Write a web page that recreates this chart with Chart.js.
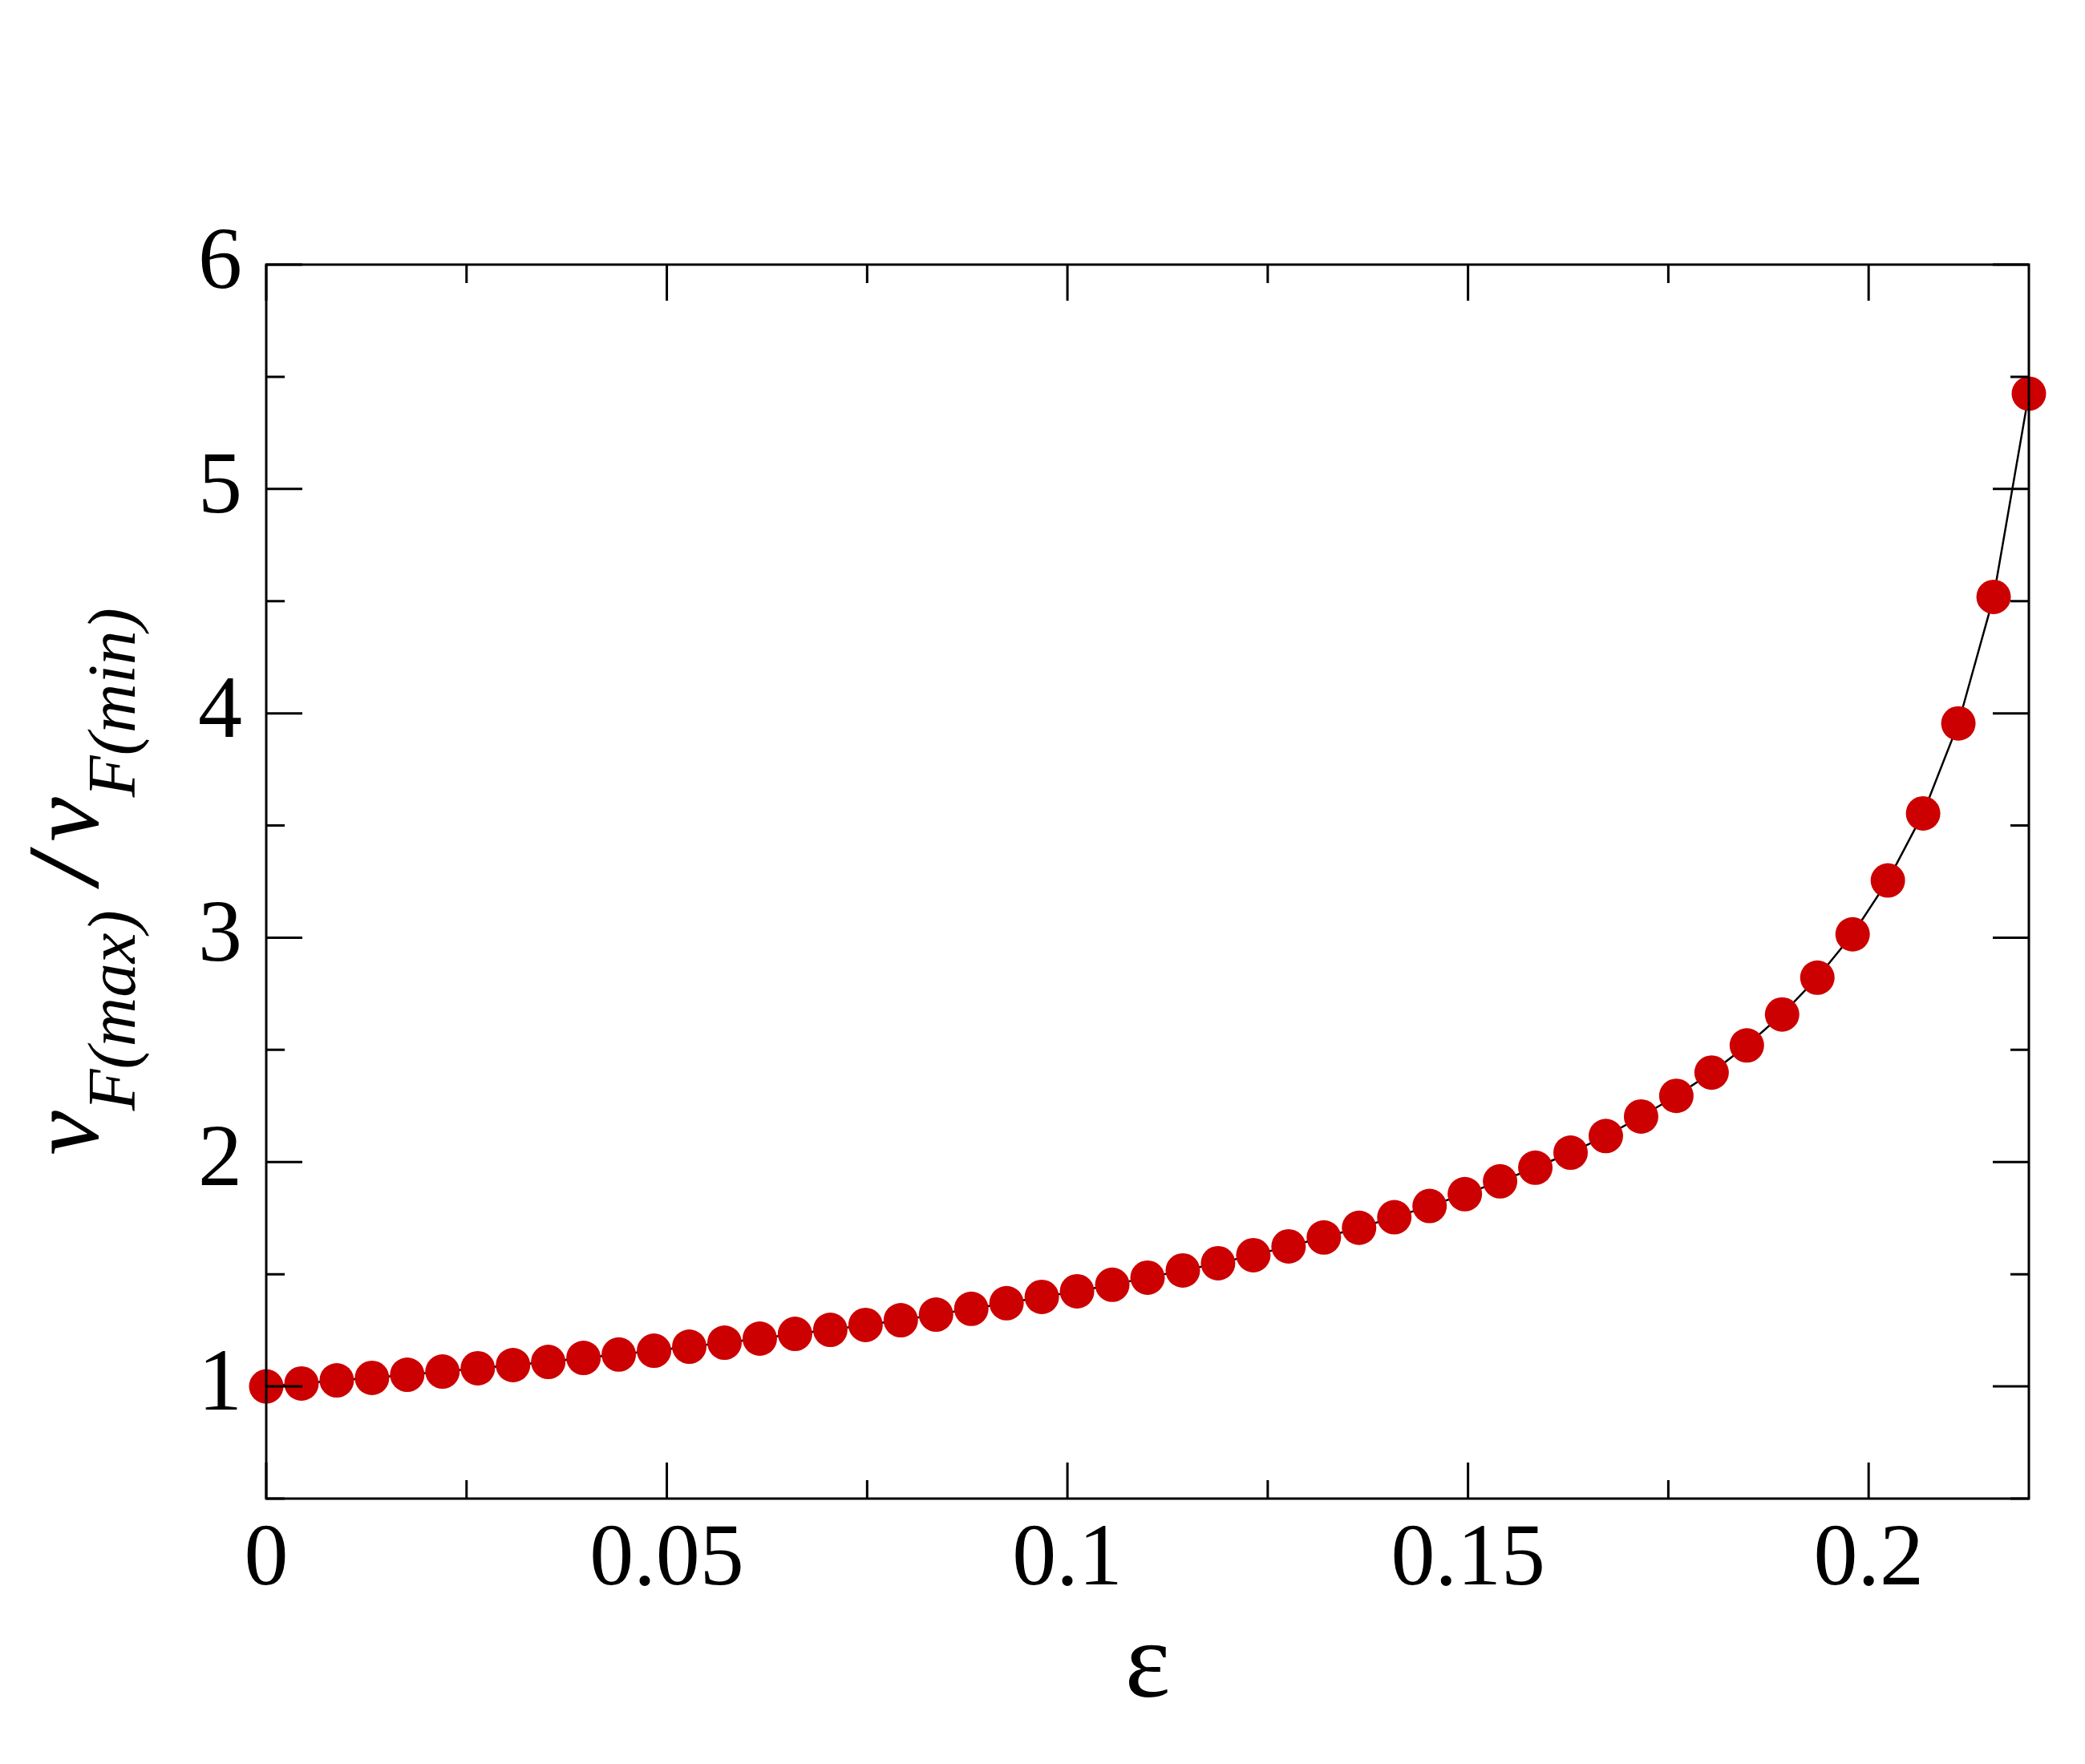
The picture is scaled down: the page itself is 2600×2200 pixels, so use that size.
<!DOCTYPE html>
<html>
<head>
<meta charset="utf-8">
<script src="https://cdn.jsdelivr.net/npm/chart.js@4.4.0/dist/chart.umd.min.js"></script>
<style>
  html, body { margin: 0; padding: 0; background: #fff; }
  #wrap { width: 2600px; height: 2200px; }
</style>
</head>
<body>
<div id="wrap"><canvas id="myChart" width="2600" height="2200"></canvas></div>
<script>
// epsilon (x) and nu_F(max)/nu_F(min) (y)
const epsilon = [0, 0.0044, 0.0088, 0.0132, 0.0176, 0.022, 0.0264, 0.0308, 0.0352, 0.0396,
  0.044, 0.0484, 0.0528, 0.0572, 0.0616, 0.066, 0.0704, 0.0748, 0.0792, 0.0836,
  0.088, 0.0924, 0.0968, 0.1012, 0.1056, 0.11, 0.1144, 0.1188, 0.1232, 0.1276,
  0.132, 0.1364, 0.1408, 0.1452, 0.1496, 0.154, 0.1584, 0.1628, 0.1672, 0.1716,
  0.176, 0.1804, 0.1848, 0.1892, 0.1936, 0.198, 0.2024, 0.2068, 0.2112, 0.2156, 0.22];
const ratio = [1.000, 1.013, 1.027, 1.038, 1.052, 1.066, 1.081, 1.095, 1.109, 1.127,
  1.142, 1.159, 1.177, 1.195, 1.213, 1.234, 1.252, 1.274, 1.295, 1.320,
  1.346, 1.371, 1.399, 1.424, 1.453, 1.485, 1.517, 1.549, 1.585, 1.624,
  1.664, 1.707, 1.754, 1.804, 1.857, 1.914, 1.975, 2.042, 2.116, 2.203,
  2.295, 2.399, 2.520, 2.658, 2.822, 3.015, 3.255, 3.554, 3.955, 4.519, 5.425];

const xTicks = [0, 0.05, 0.1, 0.15, 0.2];
const xTickLabels = ['0', '0.05', '0.1', '0.15', '0.2'];
const xMinorTicks = [0.025, 0.075, 0.125, 0.175];
const yTicks = [1, 2, 3, 4, 5, 6];
const yTickLabels = ['1', '2', '3', '4', '5', '6'];
const yMinorTicks = [0.5, 1.5, 2.5, 3.5, 4.5, 5.5];

const serif = '"Liberation Serif", "Times New Roman", serif';

// box round the plot with inward ticks on all four sides
const framePlugin = {
  id: 'frame',
  afterDatasetsDraw(chart) {
    const { ctx, chartArea: a, scales: { x, y } } = chart;
    ctx.save();
    ctx.strokeStyle = '#000';
    ctx.lineWidth = 3;
    ctx.strokeRect(a.left, a.top, a.right - a.left, a.bottom - a.top);
    ctx.beginPath();
    const xt = (v, len) => {
      const px = x.getPixelForValue(v);
      ctx.moveTo(px, a.bottom); ctx.lineTo(px, a.bottom - len);
      ctx.moveTo(px, a.top); ctx.lineTo(px, a.top + len);
    };
    const yt = (v, len) => {
      const py = y.getPixelForValue(v);
      ctx.moveTo(a.left, py); ctx.lineTo(a.left + len, py);
      ctx.moveTo(a.right, py); ctx.lineTo(a.right - len, py);
    };
    xTicks.forEach(v => xt(v, 45));
    xMinorTicks.forEach(v => xt(v, 23));
    yTicks.forEach(v => yt(v, 45));
    yMinorTicks.forEach(v => yt(v, 23));
    ctx.stroke();
    ctx.restore();
  }
};

// rotated y title with subscripts: nu_F(max) / nu_F(min)
const yTitlePlugin = {
  id: 'yTitle',
  afterDraw(chart) {
    const { ctx, chartArea: a } = chart;
    const nu = 'italic 125px ' + serif;
    const slash = 'bold italic 128px ' + serif;
    const sub = 'italic 85px ' + serif;
    const parts = [
      { t: 'ν', f: nu, dy: 0, gap: 0 },
      { t: 'F(max)', f: sub, dy: 46, gap: 34 },
      { t: '/', f: slash, dy: 0, gap: 16 },
      { t: 'ν', f: nu, dy: 0, gap: 0 },
      { t: 'F(min)', f: sub, dy: 46, gap: 0 }
    ];
    ctx.save();
    let total = 0;
    parts.forEach(p => { ctx.font = p.f; p.w = ctx.measureText(p.t).width; total += p.w + p.gap; });
    ctx.translate(122, (a.top + a.bottom) / 2);
    ctx.rotate(-Math.PI / 2);
    ctx.fillStyle = '#000';
    ctx.textBaseline = 'alphabetic';
    ctx.textAlign = 'left';
    let cx = -total / 2;
    parts.forEach(p => {
      ctx.font = p.f;
      ctx.fillText(p.t, cx, p.dy);
      cx += p.w + p.gap;
    });
    ctx.restore();
  }
};

const ctx = document.getElementById('myChart');

new Chart(ctx, {
  type: 'line',
  data: {
    datasets: [{
      data: epsilon.map((e, i) => ({ x: e, y: ratio[i] })),
      borderColor: '#000',
      borderWidth: 2.5,
      pointRadius: 21.5,
      pointBackgroundColor: '#cc0000',
      pointBorderColor: '#cc0000',
      pointBorderWidth: 0,
      fill: false,
      tension: 0,
      clip: false
    }]
  },
  options: {
    responsive: false,
    devicePixelRatio: 1,
    animation: false,
    layout: {
      padding: { top: 330, right: 70, left: 0, bottom: 0 }
    },
    scales: {
      x: {
        type: 'linear',
        min: 0,
        max: 0.22,
        afterFit(scale) { scale.height = 331; },
        afterBuildTicks(scale) { scale.ticks = xTicks.map(v => ({ value: v })); },
        grid: { display: false },
        border: { display: false },
        ticks: {
          autoSkip: false,
          maxRotation: 0,
          padding: 4,
          color: '#000',
          font: { size: 110, family: serif },
          callback: (v, i) => xTickLabels[i]
        },
        title: {
          display: true,
          text: 'ε',
          color: '#000',
          font: { size: 135, family: serif },
          padding: { top: 0, bottom: 38 }
        }
      },
      y: {
        type: 'linear',
        min: 0.5,
        max: 6,
        afterFit(scale) { scale.width = 332; },
        afterBuildTicks(scale) { scale.ticks = yTicks.map(v => ({ value: v })); },
        grid: { display: false },
        border: { display: false },
        ticks: {
          autoSkip: false,
          padding: 22,
          color: '#000',
          font: { size: 110, family: serif },
          callback: (v, i) => yTickLabels[i]
        }
      }
    },
    plugins: {
      legend: { display: false },
      tooltip: { enabled: false }
    }
  },
  plugins: [framePlugin, yTitlePlugin]
});
</script>
</body>
</html>
